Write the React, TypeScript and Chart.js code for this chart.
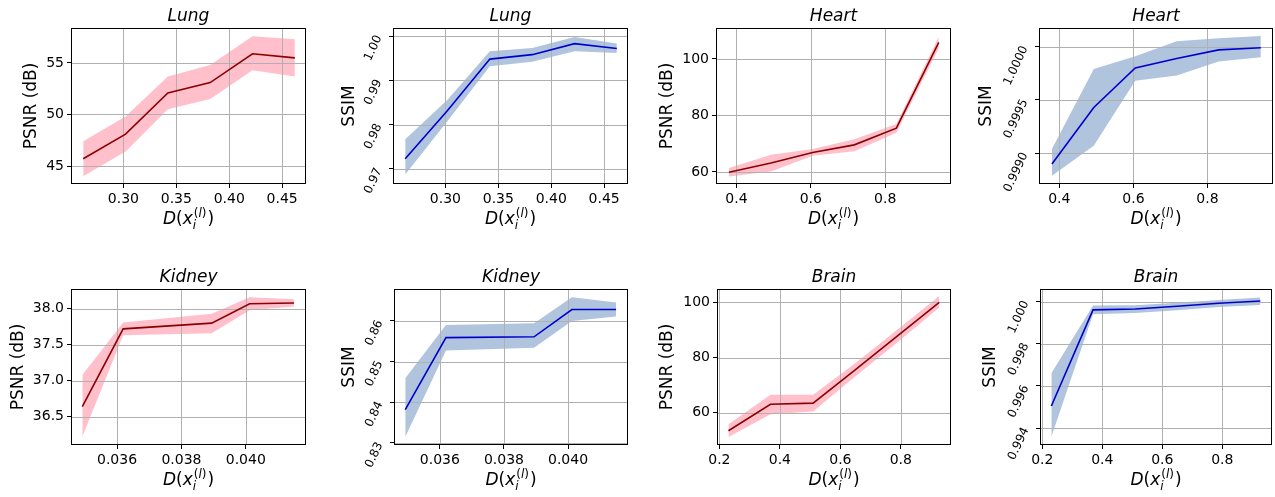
import React, { useEffect, useRef } from "react";
import { Chart, registerables } from "chart.js";

Chart.register(...registerables);

const FONT = '"DejaVu Sans", "Liberation Sans", sans-serif';
const W = 1275;
const H = 497;

// ---------------- data ----------------
const LUNG_X = [0.262, 0.302, 0.342, 0.382, 0.422, 0.462];
const LUNG_PSNR = [45.7, 48.1, 52.1, 53.1, 55.9, 55.5];
const LUNG_PSNR_HI = [47.4, 49.8, 53.7, 54.8, 57.6, 57.3];
const LUNG_PSNR_LO = [44.0, 46.4, 50.5, 51.5, 54.3, 53.7];
const LUNG_SSIM = [0.9723, 0.9832, 0.9948, 0.9958, 0.9983, 0.9972];
const LUNG_SSIM_HI = [0.9767, 0.9856, 0.9966, 0.9973, 0.9998, 0.9983];
const LUNG_SSIM_LO = [0.9687, 0.9808, 0.9932, 0.9942, 0.9966, 0.9962];

const HEART_X = [0.38, 0.493, 0.605, 0.717, 0.83, 0.944];
const HEART_PSNR = [59.9, 63.2, 66.9, 69.6, 75.5, 105.9];
const HEART_PSNR_HI = [61.4, 66.1, 68.1, 71.6, 77.0, 107.9];
const HEART_PSNR_LO = [58.4, 60.2, 65.7, 67.3, 73.9, 103.8];
const HEART_SSIM = [0.9989, 0.99943, 0.9998, 0.99989, 0.99997, 0.99999];
const HEART_SSIM_HI = [0.99904, 0.99979, 0.99991, 1.00005, 1.00008, 1.0001];
const HEART_SSIM_LO = [0.99879, 0.99907, 0.99968, 0.99973, 0.99986, 0.9999];

const KIDNEY_X = [0.03492, 0.03619, 0.03894, 0.04012, 0.0415];
const KIDNEY_PSNR = [36.64, 37.72, 37.8, 38.07, 38.08];
const KIDNEY_PSNR_HI = [37.08, 37.81, 37.93, 38.16, 38.13];
const KIDNEY_PSNR_LO = [36.22, 37.63, 37.66, 37.98, 38.03];
const KIDNEY_SSIM = [0.8382, 0.8559, 0.8561, 0.8628, 0.8628];
const KIDNEY_SSIM_HI = [0.8459, 0.859, 0.8594, 0.8658, 0.8645];
const KIDNEY_SSIM_LO = [0.8315, 0.8527, 0.8534, 0.86, 0.8611];

const BRAIN_X = [0.23, 0.369, 0.51, 0.649, 0.788, 0.927];
const BRAIN_PSNR = [53.5, 63.1, 63.5, 75.6, 87.8, 100.0];
const BRAIN_PSNR_HI = [55.9, 66.5, 66.5, 78.0, 90.1, 102.3];
const BRAIN_PSNR_LO = [51.2, 59.5, 60.5, 73.2, 85.5, 98.2];
const BRAIN_SSIM = [0.99505, 0.99961, 0.99965, 0.99978, 0.99992, 1.00003];
const BRAIN_SSIM_HI = [0.9966, 0.99981, 0.99983, 0.99995, 1.00008, 1.00019];
const BRAIN_SSIM_LO = [0.99359, 0.9994, 0.99946, 0.99959, 0.99974, 0.99984];

// ---------------- axis ranges and tick labels ----------------
const LUNG_X_RANGE = [0.2514, 0.4716];
const HEART_X_RANGE = [0.3478, 0.9742];
const KIDNEY_X_RANGE = [0.0346, 0.04184];
const BRAIN_X_RANGE = [0.1955, 0.9625];

const LUNG_PSNR_RANGE = [43.35, 58.3];
const LUNG_SSIM_RANGE = [0.9668, 1.0016];
const HEART_PSNR_RANGE = [56.1, 110.6];
const HEART_SSIM_RANGE = [0.998721, 1.000166];
const KIDNEY_PSNR_RANGE = [36.12, 38.26];
const KIDNEY_SSIM_RANGE = [0.82975, 0.8676];
const BRAIN_PSNR_RANGE = [48.7, 104.5];
const BRAIN_SSIM_RANGE = [0.99325, 1.00055];

const LUNG_X_TICKS = ["0.30", "0.35", "0.40", "0.45"];
const HEART_X_TICKS = ["0.4", "0.6", "0.8"];
const KIDNEY_X_TICKS = ["0.036", "0.038", "0.040"];
const BRAIN_X_TICKS = ["0.2", "0.4", "0.6", "0.8"];

const LUNG_PSNR_TICKS = ["45", "50", "55"];
const LUNG_SSIM_TICKS = ["0.97", "0.98", "0.99", "1.00"];
const HEART_PSNR_TICKS = ["60", "80", "100"];
const HEART_SSIM_TICKS = ["0.9990", "0.9995", "1.0000"];
const KIDNEY_PSNR_TICKS = ["36.5", "37.0", "37.5", "38.0"];
const KIDNEY_SSIM_TICKS = ["0.83", "0.84", "0.85", "0.86"];
const BRAIN_PSNR_TICKS = ["60", "80", "100"];
const BRAIN_SSIM_TICKS = ["0.994", "0.996", "0.998", "1.000"];

const TITLES = ["Lung", "Lung", "Heart", "Heart", "Kidney", "Kidney", "Brain", "Brain"];

// ---------------- styles ----------------
const PSNR_STYLE = { line: "#8b0000", band: "#ffc0cb", label: "PSNR (dB)" };
const SSIM_STYLE = { line: "#0000cd", band: "#b0c4de", label: "SSIM" };

type Box = { l: number; r: number; t: number; b: number; ylx: number };
const BOXES: Box[] = [
  { l: 72, r: 305, t: 29, b: 183, ylx: 31.5 },
  { l: 394, r: 627, t: 29, b: 183, ylx: 350 },
  { l: 717, r: 950, t: 29, b: 183, ylx: 668 },
  { l: 1040, r: 1272, t: 29, b: 183, ylx: 987 },
  { l: 72, r: 305, t: 290, b: 444, ylx: 18.5 },
  { l: 395, r: 627, t: 290, b: 444, ylx: 350 },
  { l: 718, r: 950, t: 290, b: 444, ylx: 668 },
  { l: 1041, r: 1271, t: 290, b: 444, ylx: 991 },
];

type Spec = {
  x: number[];
  mean: number[];
  hi: number[];
  lo: number[];
  xRange: number[];
  yRange: number[];
  xTicks: string[];
  yTicks: string[];
  ssim: boolean;
};

const SPECS: Spec[] = [
  { x: LUNG_X, mean: LUNG_PSNR, hi: LUNG_PSNR_HI, lo: LUNG_PSNR_LO, xRange: LUNG_X_RANGE, yRange: LUNG_PSNR_RANGE, xTicks: LUNG_X_TICKS, yTicks: LUNG_PSNR_TICKS, ssim: false },
  { x: LUNG_X, mean: LUNG_SSIM, hi: LUNG_SSIM_HI, lo: LUNG_SSIM_LO, xRange: LUNG_X_RANGE, yRange: LUNG_SSIM_RANGE, xTicks: LUNG_X_TICKS, yTicks: LUNG_SSIM_TICKS, ssim: true },
  { x: HEART_X, mean: HEART_PSNR, hi: HEART_PSNR_HI, lo: HEART_PSNR_LO, xRange: HEART_X_RANGE, yRange: HEART_PSNR_RANGE, xTicks: HEART_X_TICKS, yTicks: HEART_PSNR_TICKS, ssim: false },
  { x: HEART_X, mean: HEART_SSIM, hi: HEART_SSIM_HI, lo: HEART_SSIM_LO, xRange: HEART_X_RANGE, yRange: HEART_SSIM_RANGE, xTicks: HEART_X_TICKS, yTicks: HEART_SSIM_TICKS, ssim: true },
  { x: KIDNEY_X, mean: KIDNEY_PSNR, hi: KIDNEY_PSNR_HI, lo: KIDNEY_PSNR_LO, xRange: KIDNEY_X_RANGE, yRange: KIDNEY_PSNR_RANGE, xTicks: KIDNEY_X_TICKS, yTicks: KIDNEY_PSNR_TICKS, ssim: false },
  { x: KIDNEY_X, mean: KIDNEY_SSIM, hi: KIDNEY_SSIM_HI, lo: KIDNEY_SSIM_LO, xRange: KIDNEY_X_RANGE, yRange: KIDNEY_SSIM_RANGE, xTicks: KIDNEY_X_TICKS, yTicks: KIDNEY_SSIM_TICKS, ssim: true },
  { x: BRAIN_X, mean: BRAIN_PSNR, hi: BRAIN_PSNR_HI, lo: BRAIN_PSNR_LO, xRange: BRAIN_X_RANGE, yRange: BRAIN_PSNR_RANGE, xTicks: BRAIN_X_TICKS, yTicks: BRAIN_PSNR_TICKS, ssim: false },
  { x: BRAIN_X, mean: BRAIN_SSIM, hi: BRAIN_SSIM_HI, lo: BRAIN_SSIM_LO, xRange: BRAIN_X_RANGE, yRange: BRAIN_SSIM_RANGE, xTicks: BRAIN_X_TICKS, yTicks: BRAIN_SSIM_TICKS, ssim: true },
];

const pts = (xs: number[], ys: number[]) => xs.map((x, i) => ({ x, y: ys[i] }));

function drawMathLabel(ctx: CanvasRenderingContext2D, cx: number, baseline: number) {
  const big = 17;
  const small = 12;
  const it = (s: number) => `italic ${s}px ${FONT}`;
  const up = (s: number) => `${s}px ${FONT}`;
  const pre = [
    { t: "D", f: it(big) },
    { t: "(", f: up(big) },
    { t: "x", f: it(big) },
  ];
  const sub = [{ t: "i", f: it(small) }];
  const sup = [
    { t: "(", f: up(small) },
    { t: "l", f: it(small) },
    { t: ")", f: up(small) },
  ];
  const post = [{ t: ")", f: up(big) }];
  const width = (arr: { t: string; f: string }[]) =>
    arr.reduce((s, p) => {
      ctx.font = p.f;
      return s + ctx.measureText(p.t).width;
    }, 0);
  const wPre = width(pre);
  const wSub = width(sub);
  const wSup = width(sup);
  const wScr = Math.max(wSub, wSup + 1) + 1;
  const wPost = width(post);
  const total = wPre + wScr + wPost;
  let x = cx - total / 2;
  ctx.textAlign = "left";
  ctx.textBaseline = "alphabetic";
  const run = (arr: { t: string; f: string }[], x0: number, y: number) => {
    let xx = x0;
    arr.forEach((p) => {
      ctx.font = p.f;
      ctx.fillText(p.t, xx, y);
      xx += ctx.measureText(p.t).width;
    });
    return xx;
  };
  x = run(pre, x, baseline);
  run(sub, x, baseline + 4.5);
  run(sup, x + 1, baseline - 7.5);
  x += wScr;
  run(post, x, baseline);
}

function Panel({ idx }: { idx: number }) {
  const ref = useRef<HTMLCanvasElement | null>(null);
  useEffect(() => {
    const spec = SPECS[idx];
    const box = BOXES[idx];
    const style = spec.ssim ? SSIM_STYLE : PSNR_STYLE;
    const xVals = spec.xTicks.map((s) => parseFloat(s));
    const yVals = spec.yTicks.map((s) => parseFloat(s));

    const mplPlugin = {
      id: "mpl" + idx,
      beforeDatasetDraw(chart: any, args: any) {
        if (args.index !== 0) return;
        const { ctx, chartArea: a, scales } = chart;
        ctx.save();
        ctx.strokeStyle = "#b0b0b0";
        ctx.lineWidth = 1;
        ctx.beginPath();
        xVals.forEach((v) => {
          const px = Math.round(scales.x.getPixelForValue(v)) + 0.5;
          ctx.moveTo(px, a.top);
          ctx.lineTo(px, a.bottom);
        });
        yVals.forEach((v) => {
          const py = Math.round(scales.y.getPixelForValue(v)) + 0.5;
          ctx.moveTo(a.left, py);
          ctx.lineTo(a.right, py);
        });
        ctx.stroke();
        ctx.restore();
      },
      afterDatasetsDraw(chart: any) {
        const { ctx, chartArea: a } = chart;
        ctx.save();
        ctx.strokeStyle = "#000";
        ctx.lineWidth = 1;
        ctx.strokeRect(Math.round(a.left) - 0.5, Math.round(a.top) - 0.5, Math.round(a.right - a.left) + 1, Math.round(a.bottom - a.top) + 1);
        ctx.restore();
      },
      afterDraw(chart: any) {
        const { ctx, chartArea: a } = chart;
        const cx = (a.left + a.right) / 2;
        const cy = (a.top + a.bottom) / 2;
        ctx.save();
        ctx.fillStyle = "#000";
        ctx.font = `italic 17px ${FONT}`;
        ctx.textAlign = "center";
        ctx.textBaseline = "alphabetic";
        ctx.fillText(TITLES[idx], cx, a.top - 8.5);
        ctx.save();
        ctx.translate(box.ylx, cy);
        ctx.rotate(-Math.PI / 2);
        ctx.font = `17px ${FONT}`;
        ctx.textAlign = "center";
        ctx.textBaseline = "middle";
        ctx.fillText(style.label, 0, 0);
        ctx.restore();
        drawMathLabel(ctx, cx, a.bottom + 41);
        ctx.restore();
      },
    };

    const chart = new Chart(ref.current as HTMLCanvasElement, {
      type: "line",
      data: {
        datasets: [
          {
            label: "mean",
            data: pts(spec.x, spec.mean),
            borderColor: style.line,
            borderWidth: 1.6,
            pointRadius: 0,
            fill: false,
            tension: 0,
          },
          {
            label: "upper",
            data: pts(spec.x, spec.hi),
            borderColor: "rgba(0,0,0,0)",
            borderWidth: 0,
            pointRadius: 0,
            backgroundColor: style.band,
            fill: "+1",
            tension: 0,
          },
          {
            label: "lower",
            data: pts(spec.x, spec.lo),
            borderColor: "rgba(0,0,0,0)",
            borderWidth: 0,
            pointRadius: 0,
            fill: false,
            tension: 0,
          },
        ],
      },
      options: {
        responsive: false,
        animation: false,
        devicePixelRatio: 1,
        layout: { padding: { left: 0, top: box.t, right: W - box.r, bottom: 0 } },
        plugins: { legend: { display: false }, tooltip: { enabled: false }, title: { display: false } },
        events: [],
        scales: {
          x: {
            type: "linear",
            min: spec.xRange[0],
            max: spec.xRange[1],
            border: { display: false },
            grid: { drawOnChartArea: false, drawTicks: true, tickLength: 5, tickColor: "#000", tickWidth: 1 },
            ticks: {
              color: "#000",
              font: { family: FONT, size: 14 },
              padding: 3,
              minRotation: 0,
              maxRotation: 0,
              autoSkip: false,
              callback: (_v: any, i: number) => spec.xTicks[i],
            },
            afterBuildTicks: (s: any) => {
              s.ticks = xVals.map((v) => ({ value: v }));
            },
            afterFit: (s: any) => {
              s.height = H - box.b;
            },
          },
          y: {
            type: "linear",
            position: "left",
            min: spec.yRange[0],
            max: spec.yRange[1],
            border: { display: false },
            grid: { drawOnChartArea: false, drawTicks: true, tickLength: 5, tickColor: "#000", tickWidth: 1 },
            ticks: {
              color: "#000",
              font: { family: FONT, size: spec.ssim ? 12 : 14 },
              padding: spec.ssim ? 10 : 3,
              minRotation: spec.ssim ? 65 : 0,
              maxRotation: spec.ssim ? 65 : 0,
              autoSkip: false,
              callback: (_v: any, i: number) => spec.yTicks[i],
            },
            afterBuildTicks: (s: any) => {
              s.ticks = yVals.map((v) => ({ value: v }));
            },
            afterFit: (s: any) => {
              s.width = box.l;
            },
          },
        },
      },
      plugins: [mplPlugin],
    } as any);
    return () => chart.destroy();
  }, [idx]);
  return (
    <canvas
      ref={ref}
      width={W}
      height={H}
      style={{ position: "absolute", left: 0, top: 0, width: W, height: H }}
    />
  );
}

export default function App() {
  return (
    <div style={{ position: "fixed", left: 0, top: 0, width: W, height: H, background: "#fff", overflow: "hidden" }}>
      {SPECS.map((_, i) => (
        <Panel key={i} idx={i} />
      ))}
    </div>
  );
}
